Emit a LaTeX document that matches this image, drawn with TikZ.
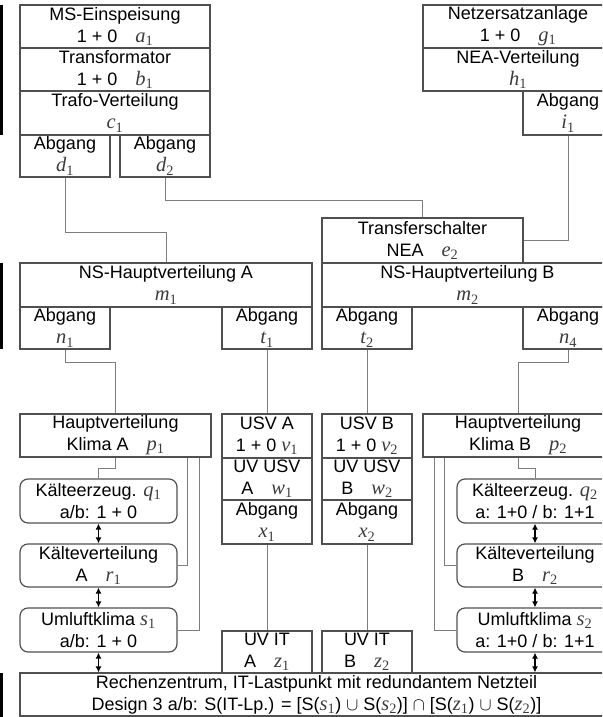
\RequirePackage{fix-cm}
\documentclass[tikz,border=0pt]{standalone}
\usepackage{fontspec}
\setmainfont{Liberation Sans}
\newfontfamily\lblfont{Liberation Serif}
\usepackage{amssymb}
\definecolor{boxgray}{RGB}{80,80,80}
\definecolor{linegray}{RGB}{125,125,125}
\definecolor{lblgray}{RGB}{60,60,60}
\newcommand{\lbl}[2]{{\color{lblgray}\lblfont\fontsize{20.5}{22}\selectfont\itshape #1\textsubscript{\upshape #2}}}
\usetikzlibrary{arrows.meta}

\begin{document}
\begin{tikzpicture}[x=1pt, y=-1pt,
		>={Latex[length=6pt,width=6pt]},   %Pfeilspitzen
		box/.style={draw=boxgray, line width=1.2pt, align=center, inner sep=0pt},
		rbox/.style={box, rounded corners=8pt},
		conn/.style={draw=linegray, line width=1pt},
		dbl/.style={<->, black, line width=1.4pt},
		font=\fontsize{18}{22}\selectfont]
		%Bildbereich
		\useasboundingbox (0,0) rectangle (602,717);
		\clip (0,0) rectangle (602,717);
		%Randmarken links
		\fill (0,5) rectangle (3,135);
		\fill (0,263) rectangle (3,349);
		\fill (0,673) rectangle (3,717);
		% Einspeisung A
		\node[box, minimum width=190pt, minimum height=43pt] (a1) at (115,26.5) {MS-Einspeisung\\1 + 0\quad\lbl{a}{1}};
		\node[box, minimum width=190pt, minimum height=43pt] (b1) at (115,69.5) {Transformator\\1 + 0\quad\lbl{b}{1}};
		\node[box, minimum width=190pt, minimum height=44pt] (c1) at (115,113) {Trafo-Verteilung\\\lbl{c}{1}};
		\node[box, minimum width=90pt, minimum height=42pt] (d1) at (65,156) {Abgang\\\lbl{d}{1}};
		\node[box, minimum width=90pt, minimum height=42pt] (d2) at (165,156) {Abgang\\\lbl{d}{2}};
		% Netzersatzanlage
		\node[box, minimum width=190pt, minimum height=43pt] (g1) at (518,26.5) {Netzersatzanlage\\1 + 0\quad\lbl{g}{1}};
		\node[box, minimum width=190pt, minimum height=43pt] (h1) at (518,69.5) {NEA-Verteilung\\\lbl{h}{1}};
		\node[box, minimum width=90pt, minimum height=44pt] (i1) at (568,113) {Abgang\\\lbl{i}{1}};
		\node[box, minimum width=201pt, minimum height=45pt] (e2) at (422.5,240.5) {Transferschalter\\NEA\quad\lbl{e}{2}};
		% NS-Hauptverteilungen
		\node[box, minimum width=292pt, minimum height=44pt] (m1) at (166,285) {NS-Hauptverteilung A\\\lbl{m}{1}};
		\node[box, minimum width=90pt, minimum height=42pt] (n1) at (65,328) {Abgang\\\lbl{n}{1}};
		\node[box, minimum width=90pt, minimum height=42pt] (t1) at (267,328) {Abgang\\\lbl{t}{1}};
		\node[box, minimum width=291pt, minimum height=44pt] (m2) at (467.5,285) {NS-Hauptverteilung B\\\lbl{m}{2}};
		\node[box, minimum width=90pt, minimum height=42pt] (t2) at (367,328) {Abgang\\\lbl{t}{2}};
		\node[box, minimum width=90pt, minimum height=42pt] (n4) at (568,328) {Abgang\\\lbl{n}{4}};
		% USV-Strang A und B
		\node[box, minimum width=90pt, minimum height=44pt] (v1) at (267,436) {USV A\\1 + 0 \lbl{v}{1}};
		\node[box, minimum width=90pt, minimum height=42pt] (w1) at (267,479) {UV USV\\A\quad\lbl{w}{1}};
		\node[box, minimum width=90pt, minimum height=44pt] (x1) at (267,522) {Abgang\\\lbl{x}{1}};
		\node[box, minimum width=90pt, minimum height=42pt] (z1) at (267,652) {UV IT\\A\quad\lbl{z}{1}};
		\node[box, minimum width=90pt, minimum height=44pt] (v2) at (367,436) {USV B\\1 + 0 \lbl{v}{2}};
		\node[box, minimum width=90pt, minimum height=42pt] (w2) at (367,479) {UV USV\\B\quad\lbl{w}{2}};
		\node[box, minimum width=90pt, minimum height=44pt] (x2) at (367,522) {Abgang\\\lbl{x}{2}};
		\node[box, minimum width=90pt, minimum height=42pt] (z2) at (367,652) {UV IT\\B\quad\lbl{z}{2}};
		% Klima A
		\node[box, minimum width=191pt, minimum height=43pt] (p1) at (115.5,435.5) {Hauptverteilung\\Klima A\quad\lbl{p}{1}};
		\node[rbox, minimum width=157pt, minimum height=44pt] (q1) at (98.5,501) {K\"alteerzeug. \lbl{q}{1}\\a/b: 1 + 0};
		\node[rbox, minimum width=157pt, minimum height=43pt] (r1) at (98.5,565.5) {K\"alteverteilung\\A\quad\lbl{r}{1}};
		\node[rbox, minimum width=157pt, minimum height=44pt] (s1) at (98.5,630) {Umluftklima \lbl{s}{1}\\a/b: 1 + 0};
		% Klima B
		\node[box, minimum width=190pt, minimum height=43pt] (p2) at (518,435.5) {Hauptverteilung\\Klima B\quad\lbl{p}{2}};
		\node[rbox, minimum width=156pt, minimum height=44pt] (q2) at (535,501) {K\"alteerzeug. \lbl{q}{2}\\a: 1+0 / b: 1+1};
		\node[rbox, minimum width=156pt, minimum height=43pt] (r2) at (535,565.5) {K\"alteverteilung\\B\quad\lbl{r}{2}};
		\node[rbox, minimum width=156pt, minimum height=44pt] (s2) at (535,630) {Umluftklima \lbl{s}{2}\\a: 1+0 / b: 1+1};
		% Lastpunkt
		\node[box, minimum width=593pt, minimum height=43pt] (rz) at (316.5,694.5) {Rechenzentrum, IT-Lastpunkt mit redundantem Netzteil\\Design 3 a/b: S(IT-Lp.) = [S(\lbl{s}{1}) $\cup$ S(\lbl{s}{2})] $\cap$ [S(\lbl{z}{1}) $\cup$ S(\lbl{z}{2})]};
		%Verbindungen
		\draw[conn] (d1.south) -- ++(0,55) -| (m1.north);
		\draw[conn] (d2.south) -- ++(0,23) -| (e2.north);
		\draw[conn] (i1.south) |- (e2.east);
		\draw[conn] (n1.south) -- ++(0,13) -| (p1.north);
		\draw[conn] (n4.south) -- ++(0,13) -| (p2.north);
		\draw[conn] (t1.south) -- (v1.north);
		\draw[conn] (t2.south) -- (v2.north);
		\draw[conn] (x1.south) -- (z1.north);
		\draw[conn] (x2.south) -- (z2.north);
		\draw[conn] (p1.south) -- ++(0,11) -| (q1.north);
		\draw[conn] ([xshift=-24pt]p1.south east) |- (r1.east);
		\draw[conn] ([xshift=-12pt]p1.south east) |- (s1.east);
		\draw[conn] (p2.south) -- ++(0,11) -| (q2.north);
		\draw[conn] ([xshift=22pt]p2.south west) |- (r2.west);
		\draw[conn] ([xshift=12pt]p2.south west) |- (s2.west);
		%Doppelpfeile
		\draw[dbl] (q1.south) -- (r1.north);
		\draw[dbl] (r1.south) -- (s1.north);
		\draw[dbl] (s1.south) -- (s1.south |- rz.north);
		\draw[dbl] (q2.south) -- (r2.north);
		\draw[dbl] (r2.south) -- (s2.north);
		\draw[dbl] (s2.south) -- (s2.south |- rz.north);
	\end{tikzpicture}
\end{document}
